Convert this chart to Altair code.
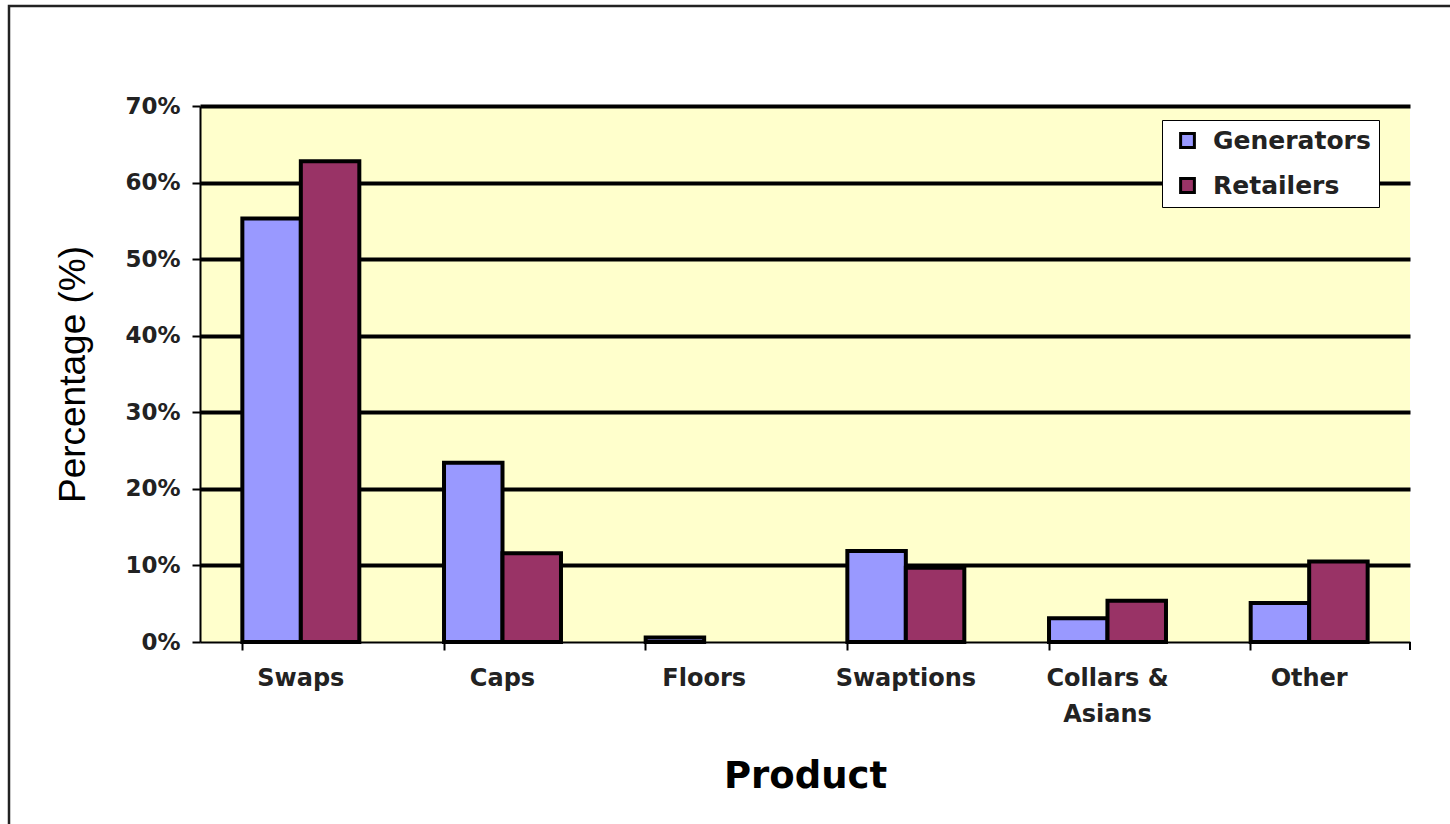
import altair as alt
import pandas as pd

products = ["Swaps", "Caps", "Floors", "Swaptions", "Collars & Asians", "Other"]
generators = [0.553, 0.234, 0.006, 0.119, 0.031, 0.051]
retailers = [0.628, 0.116, 0.0, 0.097, 0.054, 0.105]
series = ["Generators", "Retailers"]
colors = ["#9999FF", "#993366"]
y_ticks = [0, 0.1, 0.2, 0.3, 0.4, 0.5, 0.6, 0.7]

rows = []
for i, p in enumerate(products):
    rows.append({"product": p, "series": series[0], "value": generators[i]})
    rows.append({"product": p, "series": series[1], "value": retailers[i]})
df = pd.DataFrame(rows)

W, H = 1210, 536

bars = alt.Chart(df).transform_filter("datum.value > 0").mark_bar(
    stroke="black", strokeWidth=4
).encode(
    x=alt.X("product:N", sort=products,
            scale=alt.Scale(paddingInner=0.42, paddingOuter=0.21),
            axis=alt.Axis(title="Product", labelAngle=0, bandPosition=0,
                          domainColor="black", domainWidth=2,
                          tickColor="black", tickWidth=2, tickSize=8,
                          labelPadding=16, labelLineHeight=36, labelFontSize=24,
                          labelExpr="datum.value == 'Collars & Asians' ? ['Collars &', 'Asians'] : datum.value",
                          titleFont="DejaVu Sans", titleFontSize=37, titleFontWeight="bold",
                          titlePadding=32, grid=False)),
    xOffset=alt.XOffset("series:N", sort=series,
                        scale=alt.Scale(paddingInner=0, paddingOuter=0)),
    y=alt.Y("value:Q", scale=alt.Scale(domain=[0, 0.7], nice=False),
            axis=alt.Axis(title="Percentage (%)", format=".0%", values=y_ticks,
                          domainColor="black", domainWidth=2,
                          tickColor="black", tickWidth=2, tickSize=8,
                          labelPadding=12, labelFontSize=23,
                          grid=True, gridColor="black", gridWidth=4,
                          gridOpacity={"condition": {"test": "datum.value === 0", "value": 0}, "value": 1},
                          titleFont="Liberation Sans", titleFontSize=37, titleFontWeight="normal",
                          titlePadding=32)),
    color=alt.Color("series:N", sort=series,
                    scale=alt.Scale(domain=series, range=colors),
                    legend=alt.Legend(title=None, orient="none", legendX=962, legendY=14,
                                      fillColor="white", strokeColor="black",
                                      padding=8, symbolOffset=5, symbolType="square", symbolSize=190,
                                      symbolStrokeColor="black", symbolStrokeWidth=3,
                                      symbolOpacity=1,
                                      labelFont="DejaVu Sans", labelFontWeight="bold",
                                      labelFontSize=25, labelColor="#222",
                                      labelOffset=13, rowPadding=18)),
)

end_tick = alt.Chart(alt.Data(values=[{}])).mark_rule(color="black", strokeWidth=2).encode(
    x=alt.value(W), y=alt.value(H), y2=alt.value(H + 8)
)

border = alt.Chart(alt.Data(values=[{}])).mark_rect(
    fill=None, stroke="#222", strokeWidth=2.5
).encode(
    x=alt.value(-191), y=alt.value(-100), x2=alt.value(1300), y2=alt.value(800)
)

chart = alt.layer(bars, end_tick, border).properties(
    width=W, height=H,
    autosize=alt.AutoSizeParams(type="none"),
    padding={"left": 200, "top": 106, "right": 40, "bottom": 182},
    background="white",
).configure_view(
    fill="#FFFFCC", stroke=None
).configure_axis(
    labelFont="DejaVu Sans", labelFontWeight="bold", labelFontSize=22,
    labelColor="#222", titleColor="black"
)

chart.save("out.html", embed_options={"renderer": "svg", "actions": False})
